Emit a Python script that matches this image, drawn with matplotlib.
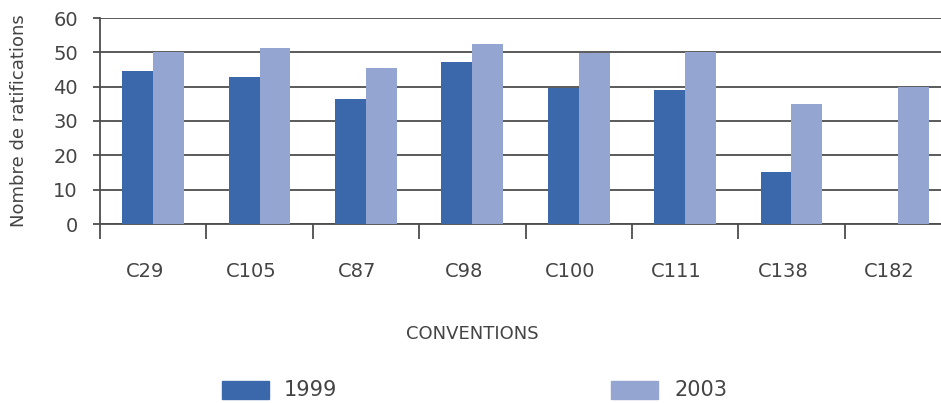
import matplotlib
matplotlib.use("Agg")
import matplotlib.pyplot as plt
from matplotlib.patches import Rectangle
import numpy as np

conventions = ["C29", "C105", "C87", "C98", "C100", "C111", "C138", "C182"]
ratif_1999 = [44.6, 42.9, 36.5, 47.3, 39.7, 39.1, 15.2, 0]
ratif_2003 = [50.1, 51.4, 45.5, 52.5, 49.9, 50.0, 35.0, 40.0]
series_labels = ["1999", "2003"]
y_ticks = [0, 10, 20, 30, 40, 50, 60]

dark = "#3b67ab"
light = "#95a5d1"
grid_col = "#4d4d4d"
text_col = "#444444"

W, H = 941, 403
fig = plt.figure(figsize=(W / 100, H / 100), dpi=100)
plt.rcParams["font.family"] = ["DejaVu Sans"]

# axes in pixel geometry (the plot runs past the right edge of the figure)
left, bottom, width, height = 100, H - 224, 851, 206
ax = fig.add_axes([left / W, bottom / H, width / W, height / H])

x = np.arange(len(conventions))
bw = 0.29
ax.bar(x - bw / 2, ratif_1999, width=bw, color=dark, zorder=3, label=series_labels[0])
ax.bar(x + bw / 2, ratif_2003, width=bw, color=light, zorder=3, label=series_labels[1])

ax.set_xlim(-0.5, len(conventions) - 0.5)
ax.set_ylim(0, 60)
ax.set_yticks(y_ticks)
ax.set_yticklabels([str(v) for v in y_ticks], fontsize=14, color=text_col)
ax.yaxis.grid(True, color=grid_col, linewidth=1.3, zorder=1)
ax.set_axisbelow(True)

# category boundary ticks below the baseline
ax.set_xticks(np.arange(len(conventions)) - 0.5)
ax.set_xticklabels([])
ax.tick_params(axis="x", length=11, width=1.3, color=grid_col, direction="out")
ax.tick_params(axis="y", length=5, width=1.3, color=grid_col, pad=11)

for i, lab in enumerate(conventions):
    ax.text(i - 0.08, -13.8, lab, ha="center", va="center", fontsize=14,
            color=text_col, transform=ax.transData)

for s in ["top", "right"]:
    ax.spines[s].set_visible(False)
ax.spines["left"].set_color(grid_col)
ax.spines["left"].set_linewidth(1.3)
ax.spines["bottom"].set_color(grid_col)
ax.spines["bottom"].set_linewidth(1.3)

ax.set_ylabel("Nombre de ratifications", fontsize=13, color=text_col, labelpad=18)

fig.text(472 / W, 1 - 334 / H, "CONVENTIONS", ha="center", va="center",
         fontsize=13, color=text_col)

# legend
for (px, tx), col, lab in zip([(222, 284), (611, 675)], [dark, light], series_labels):
    fig.add_artist(Rectangle((px / W, 1 - 399 / H), 47 / W, 18 / H,
                             transform=fig.transFigure, color=col))
    fig.text(tx / W, 1 - 390 / H, lab, ha="left", va="center",
             fontsize=15, color=text_col)

fig.savefig("out.png", dpi=100)
